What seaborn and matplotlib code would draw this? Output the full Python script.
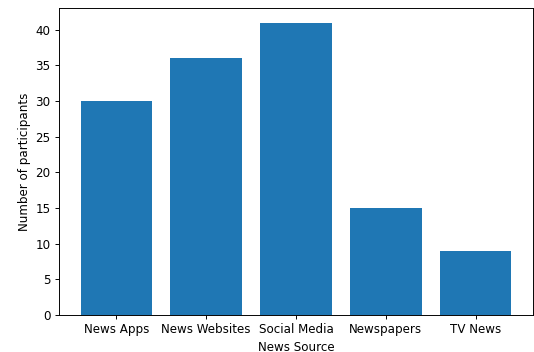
import pandas as pd
import matplotlib
matplotlib.use('Agg')
import matplotlib.pyplot as plt
import seaborn as sns

# sources and counts
sources = ['News Apps', 'News Websites', 'Social Media', 'Newspapers', 'TV News']
participants = [30, 36, 41, 15, 9]

df = pd.DataFrame({'News Source': sources, 'Number of participants': participants})

dpi = 85.5
fig = plt.figure(figsize=(534 / dpi, 352 / dpi), dpi=dpi)
ax = fig.add_axes([59 / 534, 37 / 352, 474 / 534, 307 / 352])
sns.barplot(x='News Source', y='Number of participants', data=df, color='#1f77b4',
            saturation=1, width=0.8, ax=ax)
ax.set_xlim(-0.64, 4.64)
ax.set_ylim(0, 43.05)
ax.set_xlabel('News Source')
ax.set_ylabel('Number of participants')
plt.savefig('out.png', dpi=dpi)
